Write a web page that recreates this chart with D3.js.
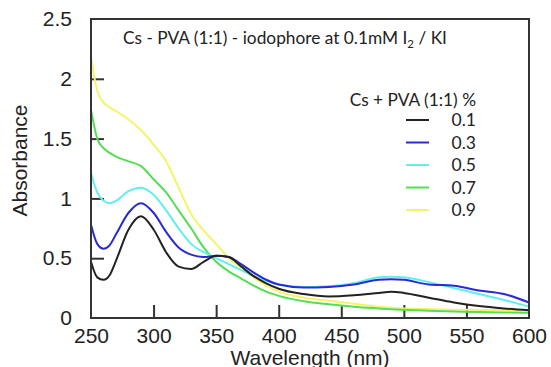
<!DOCTYPE html>
<html lang="en">
<head>
  <meta charset="UTF-8">
  <title>Cs - PVA iodophore absorbance</title>
  <style>
    html, body { margin: 0; padding: 0; background: #fff; }
    #main { width: 551px; height: 367px; }
    .tick text { font-family: "Liberation Sans", Arial, sans-serif; font-size: 21px; fill: #222; }
    .cal { font-family: Lato, "Open Sans", sans-serif; fill: #222; }
  </style>
</head>
<body>
  <div id="main"></div>
  <script src="https://d3js.org/d3.v7.min.js"></script>
  <script>
    // data
    const wavelength = [250, 255, 260, 265, 270, 280, 290, 300, 310, 320, 330, 340, 350, 360, 370, 380, 390, 400,
      420, 440, 460, 480, 490, 500, 520, 540, 560, 580, 600]
    const conc01 = [0.47, 0.34, 0.32, 0.36, 0.48, 0.74, 0.85, 0.74, 0.55, 0.43, 0.41, 0.47, 0.52, 0.51, 0.43, 0.35, 0.29, 0.245,
      0.20, 0.18, 0.19, 0.21, 0.22, 0.21, 0.17, 0.13, 0.10, 0.08, 0.065]
    const conc03 = [0.78, 0.62, 0.58, 0.61, 0.70, 0.88, 0.96, 0.88, 0.72, 0.59, 0.53, 0.51, 0.52, 0.51, 0.45, 0.38, 0.32, 0.28,
      0.255, 0.26, 0.28, 0.32, 0.325, 0.32, 0.28, 0.27, 0.23, 0.20, 0.13]
    const conc05 = [1.21, 1.05, 0.98, 0.96, 0.98, 1.06, 1.09, 1.03, 0.90, 0.75, 0.62, 0.55, 0.50, 0.45, 0.40, 0.35, 0.31, 0.28,
      0.26, 0.265, 0.29, 0.34, 0.345, 0.34, 0.30, 0.25, 0.20, 0.15, 0.095]
    const conc07 = [1.74, 1.50, 1.42, 1.38, 1.35, 1.31, 1.27, 1.16, 1.05, 0.90, 0.75, 0.59, 0.47, 0.39, 0.33, 0.27, 0.22, 0.185,
      0.14, 0.115, 0.095, 0.08, 0.073, 0.068, 0.06, 0.055, 0.05, 0.046, 0.043]
    const conc09 = [2.18, 1.90, 1.80, 1.76, 1.73, 1.66, 1.57, 1.45, 1.31, 1.09, 0.87, 0.73, 0.62, 0.50, 0.42, 0.34, 0.27, 0.22,
      0.17, 0.145, 0.12, 0.095, 0.087, 0.08, 0.075, 0.07, 0.068, 0.066, 0.065]
    const seriesNames = ['0.1', '0.3', '0.5', '0.7', '0.9']
    const seriesColors = ['#222222', '#2a2ad4', '#62eeee', '#55de55', '#f4f468']
    const xTicks = [250, 300, 350, 400, 450, 500, 550, 600]
    const yTicks = [0, 0.5, 1, 1.5, 2, 2.5]

    const series = [conc01, conc03, conc05, conc07, conc09]

    const [width, height] = [551, 367]
    const plot = { left: 91, right: 529, top: 19, bottom: 318 }

    const svg = d3.select('#main').append('svg')
      .attr('width', width)
      .attr('height', height)
      .attr('viewBox', `0 0 ${width} ${height}`)

    const x = d3.scaleLinear().domain([250, 600]).range([plot.left, plot.right])
    const y = d3.scaleLinear().domain([0, 2.5]).range([plot.bottom, plot.top])

    // axes: inward ticks, edge ticks hidden behind frame
    const xAxis = svg.append('g')
      .attr('transform', `translate(0, ${plot.bottom})`)
      .call(d3.axisBottom(x).tickValues(xTicks).tickSize(-13).tickPadding(10).tickFormat(d3.format('d')))
    const yAxis = svg.append('g')
      .attr('transform', `translate(${plot.left}, 0)`)
      .call(d3.axisLeft(y).tickValues(yTicks).tickSize(-13).tickPadding(19).tickFormat(d => d))

    ;[xAxis, yAxis].forEach(g => {
      g.select('.domain').remove()
      g.selectAll('.tick line').attr('stroke', '#333').attr('stroke-width', 2)
      g.selectAll('text').attr('font-family', null).attr('font-size', null)
    })
    xAxis.selectAll('.tick').filter(d => d === 250 || d === 600).select('line').remove()
    yAxis.selectAll('.tick').filter(d => d === 0 || d === 2.5).select('line').remove()

    // curves
    const line = d3.line()
      .x((d, i) => x(wavelength[i]))
      .y(d => y(d))
      .curve(d3.curveMonotoneX)

    svg.append('g').selectAll('path')
      .data(series.slice().reverse())
      .join('path')
      .attr('d', d => line(d))
      .attr('fill', 'none')
      .attr('stroke', (d, i) => seriesColors[series.length - 1 - i])
      .attr('stroke-width', 2)

    // frame
    svg.append('rect')
      .attr('x', plot.left).attr('y', plot.top)
      .attr('width', plot.right - plot.left).attr('height', plot.bottom - plot.top)
      .attr('fill', 'none').attr('stroke', '#333').attr('stroke-width', 2)

    // title
    const title = svg.append('text').attr('class', 'cal')
      .attr('x', 123).attr('y', 44).attr('font-size', 17.3)
    title.append('tspan').text('Cs - PVA (1:1) - iodophore at 0.1mM I')
    title.append('tspan').attr('font-size', 11.5).attr('dy', 4).text('2')
    title.append('tspan').attr('dy', -4).text(' / KI')

    // legend
    const legend = svg.append('g')
    legend.append('text').attr('class', 'cal')
      .attr('x', 476).attr('y', 106).attr('text-anchor', 'end').attr('font-size', 17.3)
      .text('Cs + PVA (1:1) %')
    const rows = legend.selectAll('.row')
      .data(seriesNames)
      .join('g')
      .attr('transform', (d, i) => `translate(0, ${126 + i * 22.5})`)
    rows.append('line')
      .attr('x1', 406).attr('x2', 429).attr('y1', -6).attr('y2', -6)
      .attr('stroke', (d, i) => seriesColors[i]).attr('stroke-width', 2)
    rows.append('text').attr('class', 'cal')
      .attr('x', 476).attr('text-anchor', 'end').attr('font-size', 17.5)
      .text(d => d)

    // axis titles
    svg.append('text')
      .attr('x', x(425)).attr('y', 365)
      .attr('text-anchor', 'middle')
      .style('font-family', '"Liberation Sans", Arial, sans-serif').style('font-size', '21px').attr('fill', '#222')
      .text('Wavelength (nm)')
    svg.append('text')
      .attr('transform', `translate(27, ${(plot.top + plot.bottom) / 2 - 8}) rotate(-90)`)
      .attr('text-anchor', 'middle')
      .style('font-family', '"Liberation Sans", Arial, sans-serif').style('font-size', '21px').attr('fill', '#222')
      .text('Absorbance')
  </script>
</body>
</html>
